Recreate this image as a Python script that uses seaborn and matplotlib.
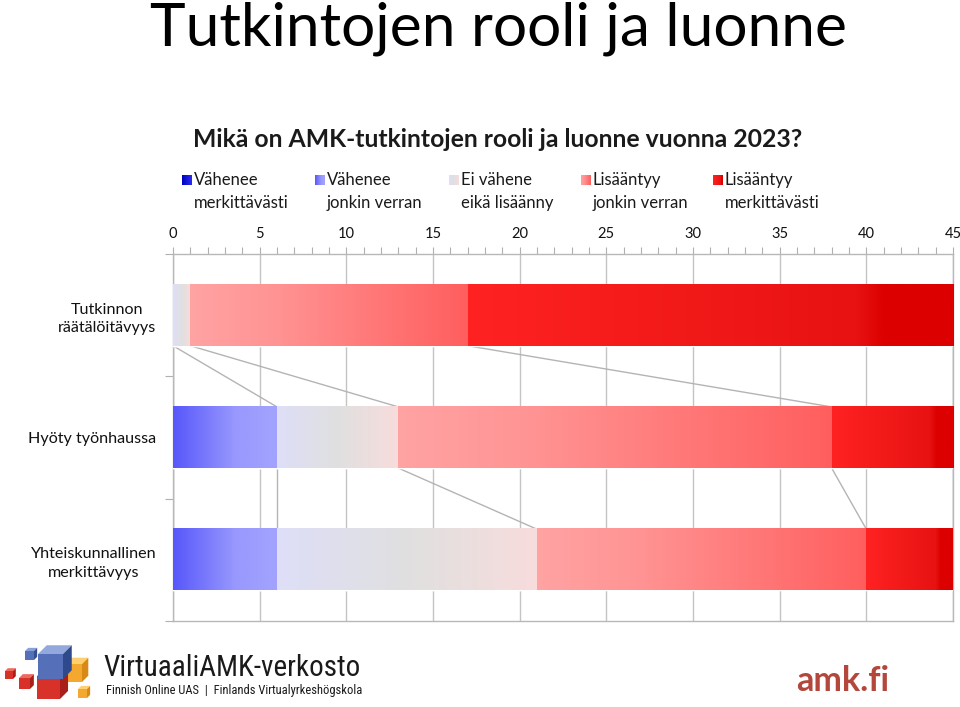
import numpy as np
import pandas as pd
import matplotlib
matplotlib.use("Agg")
import matplotlib.pyplot as plt
from matplotlib import font_manager
from matplotlib.colors import LinearSegmentedColormap
from matplotlib.patches import Rectangle, Polygon
import seaborn as sns

# ---------------- data ----------------
categories = ["Tutkinnon\nräätälöitävyys", "Hyöty työnhaussa", "Yhteiskunnallinen\nmerkittävyys"]
series_names = ["Vähenee\nmerkittävästi", "Vähenee\njonkin verran", "Ei vähene\neikä lisäänny",
                "Lisääntyy\njonkin verran", "Lisääntyy\nmerkittävästi"]
vahenee_merkittavasti = [0, 0, 0]
vahenee_jonkin = [0, 6, 6]
ei_vahene = [1, 7, 15]
lisaantyy_jonkin = [16, 25, 19]
lisaantyy_merkittavasti = [28, 7, 5]
x_ticks = [0, 5, 10, 15, 20, 25, 30, 35, 40, 45]

series_values = [vahenee_merkittavasti, vahenee_jonkin, ei_vahene, lisaantyy_jonkin, lisaantyy_merkittavasti]

# gradient stops per series (style)
grad_stops = [
    [(0, "#0000c0"), (0.6, "#1c1ce0"), (1, "#2a2af0")],
    [(0, "#5757fb"), (0.6, "#9898fe"), (1, "#a3a3fe")],
    [(0, "#dedef8"), (0.5, "#e0e0e0"), (1, "#f8dcdc")],
    [(0, "#ffa3a3"), (0.3, "#ff9494"), (1, "#ff5e5e")],
    [(0, "#ff2222"), (0.8, "#e81212"), (0.86, "#dc0000"), (1, "#dc0000")],
]
mid_colors = ["#1c1ce0", "#8080fd", "#e0e0e8", "#ff8080", "#ee1414"]

sns.set_theme(style="white")
plt.rcParams["font.family"] = ["Lato", "DejaVu Sans"]

# pick a narrow font for the logo text if one is installed
names = {f.name for f in font_manager.fontManager.ttflist}
narrow = None
for cand in ["Liberation Sans Narrow", "DejaVu Sans Condensed", "Roboto Condensed",
             "Open Sans Condensed", "Noto Sans Condensed", "Arial Narrow"]:
    if cand in names:
        narrow = cand
        break

fig = plt.figure(figsize=(9.6, 7.07), dpi=100)
fig.patch.set_facecolor("white")
ax = fig.add_axes([173 / 960, 1 - 621 / 707, 780 / 960, (621 - 254) / 707])

df = pd.DataFrame({"cat": categories})
cum_start = []
cum_end = []
run = np.zeros(len(categories))
for vals in series_values:
    cum_start.append(run.copy())
    run = run + np.array(vals, dtype=float)
    cum_end.append(run.copy())

# base bars with seaborn (layered cumulative)
for i in reversed(range(len(series_values))):
    df["val"] = cum_end[i]
    sns.barplot(data=df, x="val", y="cat", orient="h", color=mid_colors[i],
                width=0.5, ax=ax, saturation=1, zorder=3)

bh = 0.5
# gradient overlay on each segment
for i, vals in enumerate(series_values):
    cmap = LinearSegmentedColormap.from_list("g%d" % i, grad_stops[i])
    grad = np.linspace(0, 1, 256).reshape(1, -1)
    for k in range(len(categories)):
        s, e = cum_start[i][k], cum_end[i][k]
        if e - s <= 0:
            continue
        ax.imshow(grad, cmap=cmap, extent=(s, e, k + bh / 2, k - bh / 2),
                  aspect="auto", interpolation="bilinear", zorder=4)

# series lines
for i in range(len(series_values)):
    for k in range(len(categories) - 1):
        ax.plot([cum_end[i][k], cum_end[i][k + 1]], [k + bh / 2, k + 1 - bh / 2],
                color="#b4b4b4", lw=1, zorder=2, solid_capstyle="butt")

ax.set_xlim(0, 45)
ax.set_ylim(2.5, -0.5)
ax.set_xlabel("")
ax.set_ylabel("")

ax.xaxis.tick_top()
ax.set_xticks(x_ticks)
ax.set_xticklabels([str(t) for t in x_ticks], fontsize=10.5, color="#111111")
ax.set_xticks(np.arange(0, 46, 1), minor=True)
ax.tick_params(axis="x", which="both", direction="out", length=5, width=0.8,
               color="#b0b0b0", pad=4, top=True, bottom=False)

ax.set_yticks(range(len(categories)))
ax.set_yticklabels(categories, fontsize=11.6, color="#111111", linespacing=1.4)
ax.set_yticks([-0.5, 0.5, 1.5, 2.5], minor=True)
ax.tick_params(axis="y", which="major", length=0, pad=12)
ax.tick_params(axis="y", which="minor", length=6, width=0.8, color="#b0b0b0", left=True)
for lab in ax.get_yticklabels():
    lab.set_horizontalalignment("right")
    lab.set_multialignment("center")

ax.grid(axis="x", color="#c4c4c4", lw=1, zorder=0)
ax.grid(axis="y", visible=False)
ax.set_axisbelow(True)
for sp in ["top", "left", "bottom", "right"]:
    ax.spines[sp].set_visible(True)
    ax.spines[sp].set_color("#b8b8b8")
    ax.spines[sp].set_linewidth(1)

# ---------------- titles ----------------
fig.text(498 / 960, 1 - 46 / 707, "Tutkintojen rooli ja luonne", ha="center", va="baseline",
         fontsize=43.5, color="black")
fig.text(498 / 960, 1 - 147 / 707, "Mikä on AMK-tutkintojen rooli ja luonne vuonna 2023?",
         ha="center", va="baseline", fontsize=17.8, fontweight="bold", color="#1a1a1a")

# ---------------- legend ----------------
leg_x = [182, 315, 449, 581, 713]
for i, name in enumerate(series_names):
    cmap = LinearSegmentedColormap.from_list("l%d" % i, grad_stops[i])
    lax = fig.add_axes([leg_x[i] / 960, 1 - 185 / 707, 10 / 960, 10 / 707])
    lax.imshow(np.linspace(0, 1, 64).reshape(1, -1), cmap=cmap, aspect="auto")
    lax.set_axis_off()
    l1, l2 = name.split("\n")
    fig.text((leg_x[i] + 12) / 960, 1 - 185 / 707, l1, ha="left", va="baseline",
             fontsize=12, color="#1a1a1a")
    fig.text((leg_x[i] + 12) / 960, 1 - 208 / 707, l2, ha="left", va="baseline",
             fontsize=12, color="#1a1a1a")

# ---------------- logo / footer ----------------
ov = fig.add_axes([0, 0, 1, 1], zorder=-5)
ov.set_xlim(0, 960)
ov.set_ylim(707, 0)
ov.set_axis_off()
ov.patch.set_alpha(0)


def cube(x, y, s, front, top, side):
    d = s * 0.35
    ov.add_patch(Polygon([[x, y], [x + s, y], [x + s + d, y - d], [x + d, y - d]], closed=True,
                         facecolor=top, edgecolor="none"))
    ov.add_patch(Polygon([[x + s, y], [x + s + d, y - d], [x + s + d, y + s - d], [x + s, y + s]],
                         closed=True, facecolor=side, edgecolor="none"))
    ov.add_patch(Rectangle((x, y), s, s, facecolor=front, edgecolor="none"))


cube(5, 671, 8, "#d8312a", "#ee6a5e", "#a82018")
cube(19, 678, 11, "#d8312a", "#ee6a5e", "#a82018")
cube(25, 651, 9, "#5570b8", "#8aa0d8", "#354f90")
cube(64, 664, 18, "#f5a830", "#ffd070", "#d88a18")
cube(78, 689, 9, "#f5a830", "#ffd070", "#d88a18")
cube(37, 676, 23, "#d8312a", "#f06050", "#a82018")
cube(38, 654, 25, "#5570b8", "#93a8dc", "#2f4a8c")

if narrow is not None:
    fam = [narrow, "DejaVu Sans"]
    big_fs, small_fs = 21, 9.0
else:
    fam = ["Liberation Sans", "DejaVu Sans"]
    big_fs, small_fs = 19, 7.6
fig.text(103 / 960, 1 - 676 / 707, "VirtuaaliAMK-verkosto", ha="left", va="baseline",
         fontsize=big_fs, color="#1a1a1a", family=fam)
fig.text(106 / 960, 1 - 694 / 707, "Finnish Online UAS  |  Finlands Virtualyrkeshögskola", ha="left",
         va="baseline", fontsize=small_fs, color="#1a1a1a", family=fam)
fig.text(843 / 960, 1 - 691 / 707, "amk.fi", ha="center", va="baseline", fontsize=24.5,
         fontweight="bold", color="#b4473c")

fig.savefig("out.png", dpi=100, facecolor="white")
